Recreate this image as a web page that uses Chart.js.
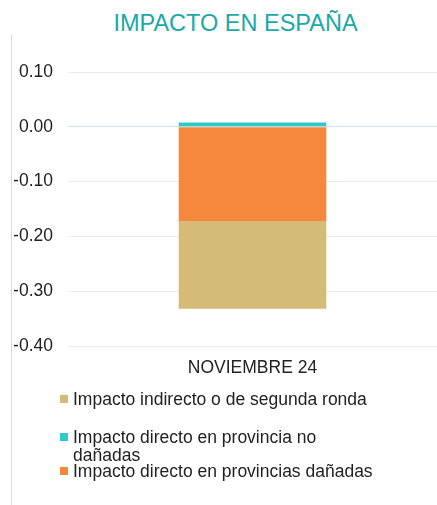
<!DOCTYPE html>
<html lang="es">
<head>
    <meta charset="UTF-8">
    <title>Impacto en España</title>
    <script src="https://cdn.jsdelivr.net/npm/chart.js"></script>
    <style>
        body { margin: 0; background: #fff; font-family: "Liberation Sans", Arial, sans-serif; }
        #wrap { position: relative; width: 437px; height: 505px; overflow: hidden; }
        #title { position: absolute; left: 34px; right: 0; top: 10px; text-align: center; font-size: 23.5px; color: #1aa9a9; }
        #edge { position: absolute; left: 11px; top: 35px; width: 1px; height: 470px; background: #d9d9d9; }
        #box { position: absolute; left: 0; top: 0; width: 437px; height: 397px; }
        #legend { position: absolute; left: 60px; top: 390px; font-size: 17.5px; color: #222; }
        .item { position: relative; padding-left: 13px; line-height: 18px; }
        .sw { position: absolute; left: 0; top: 5px; width: 8px; height: 8px; }
    </style>
</head>
<body>
<div id="wrap">
    <div id="title">IMPACTO EN ESPAÑA</div>
    <div id="edge"></div>
    <div id="box"><canvas id="myChart"></canvas></div>
    <div id="legend"></div>
</div>
<script>
    // data
    const categories = ['NOVIEMBRE 24'];
    const directoDanadas = [-0.172];   // Impacto directo en provincias dañadas
    const indirecto = [-0.160];        // Impacto indirecto o de segunda ronda
    const directoNoDanadas = [0.008];  // Impacto directo en provincia no dañadas
    const yTicks = [0.10, 0.00, -0.10, -0.20, -0.30, -0.40];

    const series = [
        { label: 'Impacto directo en provincias dañadas', data: directoDanadas, color: '#f5883d' },
        { label: 'Impacto indirecto o de segunda ronda', data: indirecto, color: '#d4bb76' },
        { label: 'Impacto directo en provincia no dañadas', data: directoNoDanadas, color: '#2ec9c9' }
    ];

    const ctx = document.getElementById('myChart').getContext('2d');
    const chart = new Chart(ctx, {
        type: 'bar',
        data: {
            labels: categories,
            datasets: series.map(s => ({
                label: s.label,
                data: s.data,
                backgroundColor: s.color,
                borderWidth: 0,
                barPercentage: 0.4,
                categoryPercentage: 1
            }))
        },
        options: {
            responsive: true,
            maintainAspectRatio: false,
            animation: false,
            layout: { padding: { top: 72, left: 14, right: 0, bottom: 6 } },
            plugins: { legend: { display: false }, tooltip: { enabled: false } },
            scales: {
                x: {
                    stacked: true,
                    grid: { display: false, drawTicks: false },
                    border: { display: false },
                    ticks: { color: '#222', font: { size: 17.5, family: 'Liberation Sans' }, padding: 12 }
                },
                y: {
                    stacked: true,
                    min: -0.4,
                    max: 0.1,
                    afterBuildTicks: axis => { axis.ticks = yTicks.map(v => ({ value: v })); },
                    afterFit: axis => { axis.width = 54; },
                    grid: {
                        drawTicks: false,
                        color: c => Math.abs(c.tick.value) < 1e-9 ? '#cfe3f1' : '#ececec',
                        lineWidth: 1
                    },
                    border: { display: false },
                    ticks: {
                        color: '#222',
                        font: { size: 17.5, family: 'Liberation Sans' },
                        padding: 15,
                        callback: v => v.toFixed(2)
                    }
                }
            }
        }
    });

    // legend in the order the reference shows it
    const legendOrder = [1, 2, 0];
    const legendText = {
        0: 'Impacto directo en provincias dañadas',
        1: 'Impacto indirecto o de segunda ronda',
        2: 'Impacto directo en provincia no<br>dañadas'
    };
    const legendMargin = { 1: 20, 2: -2, 0: 0 };
    const legendEl = document.getElementById('legend');
    legendOrder.forEach(i => {
        const d = document.createElement('div');
        d.className = 'item';
        d.style.marginBottom = legendMargin[i] + 'px';
        d.innerHTML = '<span class="sw" style="background:' + series[i].color + '"></span>' + legendText[i];
        legendEl.appendChild(d);
    });
</script>
</body>
</html>
